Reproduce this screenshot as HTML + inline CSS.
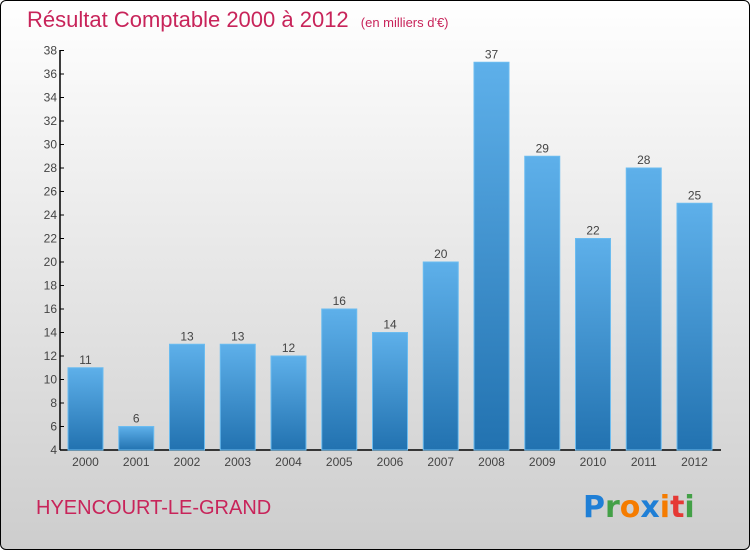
<!DOCTYPE html>
<html><head><meta charset="utf-8"><style>
body{margin:0;width:750px;height:550px;overflow:hidden;font-family:"Liberation Sans",sans-serif}
#wrap{position:absolute;left:0;top:0;width:748px;height:548px;border:1px solid #000;border-radius:6px;background:linear-gradient(#ffffff,#cdcdcd)}
</style></head><body>
<div id="wrap">
<svg id="chart" width="750" height="550" style="position:absolute;left:-1px;top:-1px">
<defs><linearGradient id="bg" x1="0" y1="0" x2="0" y2="1"><stop offset="0" stop-color="#5eb0ea"/><stop offset="1" stop-color="#2272b0"/></linearGradient></defs>
<text x="27" y="27" font-size="22" fill="#c8245a">Résultat Comptable 2000 à 2012 <tspan font-size="13" dx="6">(en milliers d'€)</tspan></text>
<text x="36" y="514" font-size="20" fill="#c8245a">HYENCOURT-LE-GRAND</text>
<g font-size="30" font-weight="bold" font-family="DejaVu Sans, sans-serif">
<text x="583" y="517" fill="#1f7fd6">P<tspan fill="#43a047">r</tspan><tspan fill="#f57c00">o</tspan><tspan fill="#1f7fd6">x</tspan><tspan fill="#f57c00">i</tspan><tspan fill="#e53935">t</tspan><tspan fill="#43a047">i</tspan></text></g>
<g id="axes"></g><g id="bars"></g>
</svg></div>
<script>
const years=["2000","2001","2002","2003","2004","2005","2006","2007","2008","2009","2010","2011","2012"];
const values=[11,6,13,13,12,16,14,20,37,29,22,28,25];
const yTicks=[4,6,8,10,12,14,16,18,20,22,24,26,28,30,32,34,36,38];
const ns="http://www.w3.org/2000/svg";
const y=v=>450-(v-4)*(399.5/34);
const x=i=>85.5+i*50.75;
function mk(t,a,p){const e=document.createElementNS(ns,t);for(const k in a)e.setAttribute(k,a[k]);p.appendChild(e);return e;}
const ax=document.getElementById('axes'),bs=document.getElementById('bars');
let l=mk('line',{x1:60,y1:50,x2:60,y2:450,stroke:'#000','stroke-width':1.5},ax);


l=mk('line',{x1:60,y1:450,x2:721,y2:450,stroke:'#000','stroke-width':1.5},ax);


yTicks.forEach(v=>{
 mk('line',{x1:60,y1:y(v),x2:64,y2:y(v),stroke:'#000'},ax);
 const t=mk('text',{x:57,y:y(v)+4,'font-size':12,fill:'#444','text-anchor':'end'},ax);t.textContent=v;
 
 
});
years.forEach((yr,i)=>{
 const v=values[i];
 const r=mk('rect',{x:x(i)-17.5,y:y(v),width:35,height:450-y(v),fill:'url(#bg)',stroke:'#6bbcf0','stroke-width':1},bs);
 
 
 const t=mk('text',{x:x(i),y:y(v)-4,'font-size':12,fill:'#444','text-anchor':'middle'},bs);t.textContent=v;
 
 
 const xl=mk('text',{x:x(i),y:466,'font-size':12,fill:'#444','text-anchor':'middle'},ax);xl.textContent=yr;
 
 
});
</script>
</body></html>
